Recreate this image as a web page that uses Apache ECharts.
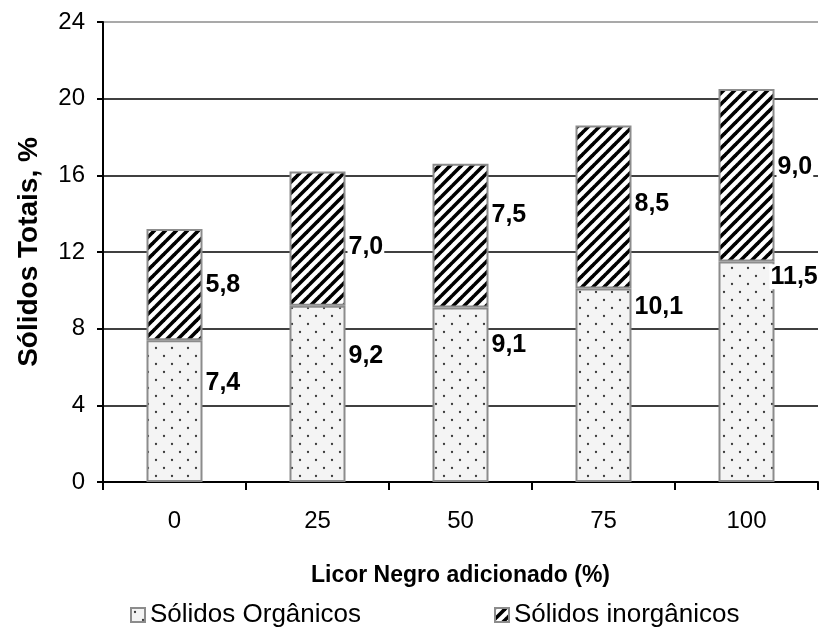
<!DOCTYPE html>
<html>
<head>
<meta charset="utf-8">
<script src="https://cdn.jsdelivr.net/npm/echarts@6/dist/echarts.min.js"></script>
<style>
  html, body { margin: 0; padding: 0; background: #fff; }
  #chart { width: 820px; height: 632px; }
</style>
</head>
<body>
<div id="chart"></div>
<script>
const categories = ['0', '25', '50', '75', '100']
const organicos = [7.4, 9.2, 9.1, 10.1, 11.5]
const inorganicos = [5.8, 7.0, 7.5, 8.5, 9.0]
const yTicks = [0, 4, 8, 12, 16, 20, 24]

// label nudges [x, y] in px so the labels sit where the original put them
const orgLabelShift = [[0, -28], [0, -38], [0, -50], [0, -78], [-7, -95]]
const inoLabelShift = [[0, 1], [0, 9], [0, -21], [0, -3], [0, -8]]

function dotPattern() {
  const c = document.createElement('canvas')
  c.width = 16
  c.height = 16
  const ctx = c.getContext('2d')
  ctx.fillStyle = '#f4f4f4'
  ctx.fillRect(0, 0, 16, 16)
  ctx.fillStyle = '#3a3a3a'
  ctx.beginPath()
  ctx.arc(4, 4, 1.15, 0, Math.PI * 2)
  ctx.arc(12, 12, 1.15, 0, Math.PI * 2)
  ctx.fill()
  return c
}

function stripePattern() {
  const s = 11
  const c = document.createElement('canvas')
  c.width = s
  c.height = s
  const ctx = c.getContext('2d')
  ctx.fillStyle = '#fff'
  ctx.fillRect(0, 0, s, s)
  ctx.strokeStyle = '#000'
  ctx.lineWidth = 3.6
  for (const k of [-s, 0, s]) {
    ctx.beginPath()
    ctx.moveTo(k - 1, s + 1)
    ctx.lineTo(k + s + 1, -1)
    ctx.stroke()
  }
  return c
}

const labelFont = {
  color: '#000',
  fontFamily: 'Liberation Sans',
  fontWeight: 'bold',
  fontSize: 25,
  backgroundColor: '#fff',
  padding: [0, 1]
}

const legendText = { fontSize: 26, color: '#000', fontFamily: 'Liberation Sans' }

const chart = echarts.init(document.getElementById('chart'))

const option = {
  animation: false,
  textStyle: { fontFamily: 'Liberation Sans', color: '#000' },
  grid: { left: 103, right: 2, top: 22, bottom: 150 },
  legend: [
    {
      data: ['Sólidos Orgânicos'],
      left: 130,
      top: 602,
      padding: 0,
      icon: 'rect',
      itemWidth: 14,
      itemHeight: 14,
      textStyle: legendText
    },
    {
      data: ['Sólidos inorgânicos'],
      left: 494,
      top: 602,
      padding: 0,
      icon: 'rect',
      itemWidth: 14,
      itemHeight: 14,
      textStyle: legendText
    }
  ],
  xAxis: {
    type: 'category',
    data: categories,
    name: 'Licor Negro adicionado (%)',
    nameLocation: 'middle',
    nameGap: 82,
    nameTextStyle: { fontSize: 23, fontWeight: 'bold', color: '#000' },
    axisLine: { lineStyle: { color: '#000', width: 2 } },
    axisTick: { show: true, length: 8, lineStyle: { color: '#000', width: 2 } },
    axisLabel: { fontSize: 24, color: '#000', margin: 27 }
  },
  yAxis: {
    type: 'value',
    min: yTicks[0],
    max: yTicks[yTicks.length - 1],
    interval: 4,
    name: 'Sólidos Totais, %',
    nameLocation: 'middle',
    nameGap: 60,
    nameTextStyle: { fontSize: 28, fontWeight: 'bold', color: '#000' },
    axisLine: { show: true, lineStyle: { color: '#000', width: 2 } },
    axisTick: { show: true, length: 6, lineStyle: { color: '#000', width: 2 } },
    axisLabel: { fontSize: 24, color: '#000', margin: 18 },
    splitLine: {
      lineStyle: {
        color: ['#000', '#000', '#000', '#000', '#000', '#000', '#8c8c8c'],
        width: 1.6
      }
    }
  },
  series: [
    {
      name: 'Sólidos Orgânicos',
      type: 'bar',
      stack: 'total',
      barWidth: 56,
      data: organicos.map((v, i) => ({
        value: v,
        label: { offset: orgLabelShift[i] }
      })),
      itemStyle: {
        color: { image: dotPattern(), repeat: 'repeat' },
        borderColor: '#8c8c8c',
        borderWidth: 2
      },
      label: {
        show: true,
        position: 'right',
        distance: 2,
        formatter: p => p.value.toFixed(1).replace('.', ','),
        ...labelFont
      }
    },
    {
      name: 'Sólidos inorgânicos',
      type: 'bar',
      stack: 'total',
      barWidth: 56,
      data: inorganicos.map((v, i) => ({
        value: v,
        label: { offset: inoLabelShift[i] }
      })),
      itemStyle: {
        color: { image: stripePattern(), repeat: 'repeat' },
        borderColor: '#8c8c8c',
        borderWidth: 2
      },
      label: {
        show: true,
        position: 'right',
        distance: 2,
        formatter: p => p.value.toFixed(1).replace('.', ','),
        ...labelFont
      }
    }
  ]
}

chart.setOption(option)
</script>
</body>
</html>
